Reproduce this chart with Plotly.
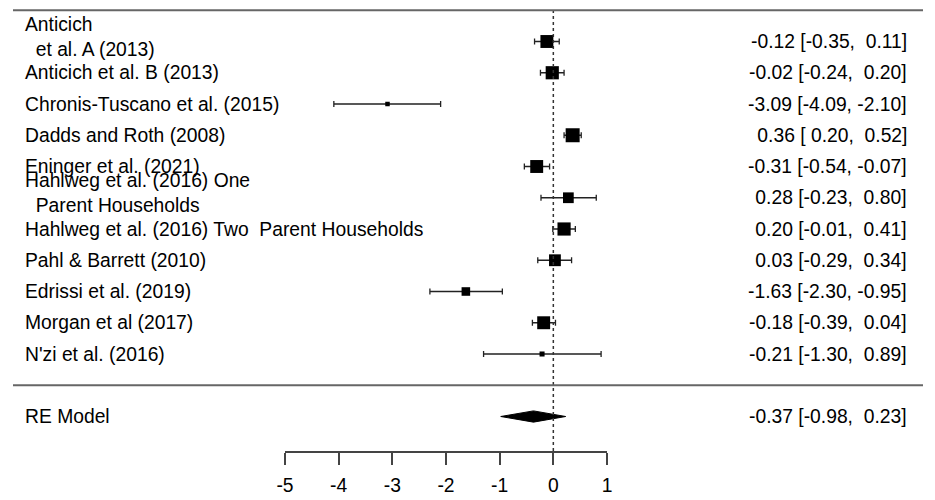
import plotly.graph_objects as go

# ---- data ----
studies = [
    "Anticich<br>  et al. A (2013)",
    "Anticich et al. B (2013)",
    "Chronis-Tuscano et al. (2015)",
    "Dadds and Roth (2008)",
    "Eninger et al. (2021)",
    "Hahlweg et al. (2016) One<br>  Parent Households",
    "Hahlweg et al. (2016) Two\u00a0 Parent Households",
    "Pahl & Barrett (2010)",
    "Edrissi et al. (2019)",
    "Morgan et al (2017)",
    "N'zi et al. (2016)",
]
estimates = [-0.12, -0.02, -3.09, 0.36, -0.31, 0.28, 0.20, 0.03, -1.63, -0.18, -0.21]
ci_lower = [-0.35, -0.24, -4.09, 0.20, -0.54, -0.23, -0.01, -0.29, -2.30, -0.39, -1.30]
ci_upper = [0.11, 0.20, -2.10, 0.52, -0.07, 0.80, 0.41, 0.34, -0.95, 0.04, 0.89]
weights = [10.0, 10.1, 6.9, 10.4, 10.0, 9.2, 10.1, 9.6, 8.4, 10.0, 7.1]  # approx. % weights (marker size)

re_label = "RE Model"
re_est, re_lo, re_hi = -0.37, -0.98, 0.23

x_ticks = [-5, -4, -3, -2, -1, 0, 1]

# ---- layout geometry (pixels, reference page coords; page body has 8px margin) ----
OFF = 8
W, H = 935 - 2 * OFF, 500 - OFF
X_LEFT_PX, X_RIGHT_PX = 285, 607      # page x of -5 and 1
AXIS_Y_PX = 451                        # page y of axis line
L_MARGIN = X_LEFT_PX - OFF
R_MARGIN = W - (X_RIGHT_PX - OFF)
T_MARGIN = 0
B_MARGIN = H - (AXIS_Y_PX - OFF)
PW = W - L_MARGIN - R_MARGIN
FONT = "Liberation Sans, Arial, sans-serif"
FS = 19.3

# y range: row 11 at page y 41.5, 31.25 px per row
ROW_PX = 31.25
top_row = 11 + (41.5 - OFF) / ROW_PX
bot_row = 11 - (AXIS_Y_PX - 41.5) / ROW_PX

def px_to_paper(px):
    return (px - OFF - L_MARGIN) / PW

n = len(studies)
rows = [n - i for i in range(n)]
re_row = -1

wmin, wmax = min(weights), max(weights)
sizes = [4.5 + (w - wmin) / (wmax - wmin) * 9.5 for w in weights]

fig = go.Figure()

# study estimates with CI
fig.add_trace(go.Scatter(
    x=estimates, y=rows, mode="markers",
    marker=dict(symbol="square", size=sizes, color="black", opacity=1, line=dict(width=0)),
    error_x=dict(type="data", symmetric=False,
                 array=[u - e for u, e in zip(ci_upper, estimates)],
                 arrayminus=[e - l for e, l in zip(estimates, ci_lower)],
                 color="#222222", thickness=1.3, width=3),
    showlegend=False, hoverinfo="skip", cliponaxis=False,
))

# RE diamond
dh = 0.18
fig.add_trace(go.Scatter(
    x=[re_lo, re_est, re_hi, re_est, re_lo],
    y=[re_row, re_row + dh, re_row, re_row - dh, re_row],
    mode="lines", fill="toself", fillcolor="black",
    line=dict(color="black", width=1), showlegend=False, hoverinfo="skip",
))

# reference line at 0
fig.add_shape(type="line", xref="x", yref="y", x0=0, x1=0, y0=bot_row, y1=n + 1,
              line=dict(color="#333333", width=1.5, dash="dot"))

# horizontal rules
for yv in [n + 1, 0]:
    fig.add_shape(type="line", xref="paper", yref="y",
                  x0=px_to_paper(13), x1=px_to_paper(923), y0=yv, y1=yv,
                  line=dict(color="#666666", width=2))

def fmt(v):
    return f"{v:5.2f}".replace(" ", "\u00a0")

annotations = []
for lab, r, e, lo, hi in zip(studies, rows, estimates, ci_lower, ci_upper):
    multi = "<br>" in lab
    annotations.append(dict(
        x=px_to_paper(23), xref="paper", y=r, yref="y",
        text=lab.replace("  ", "\u00a0\u00a0"), showarrow=False,
        xanchor="left", yanchor="middle", align="left",
        yshift=5 if multi else 0,
        font=dict(family=FONT, size=FS, color="black"),
    ))
    annotations.append(dict(
        x=px_to_paper(909), xref="paper", y=r, yref="y",
        text=f"{fmt(e)} [{fmt(lo)}, {fmt(hi)}]", showarrow=False,
        xanchor="right", yanchor="middle", align="right",
        font=dict(family=FONT, size=FS, color="black"),
    ))
annotations.append(dict(
    x=px_to_paper(23), xref="paper", y=re_row, yref="y", text=re_label,
    showarrow=False, xanchor="left", yanchor="middle",
    font=dict(family=FONT, size=FS, color="black"),
))
annotations.append(dict(
    x=px_to_paper(909), xref="paper", y=re_row, yref="y",
    text=f"{fmt(re_est)} [{fmt(re_lo)}, {fmt(re_hi)}]", showarrow=False,
    xanchor="right", yanchor="middle",
    font=dict(family=FONT, size=FS, color="black"),
))

fig.update_layout(
    width=W, height=H,
    margin=dict(l=L_MARGIN, r=R_MARGIN, t=T_MARGIN, b=B_MARGIN, pad=0),
    paper_bgcolor="white", plot_bgcolor="white",
    annotations=annotations,
    xaxis=dict(range=[-5, 1], tickvals=x_ticks, ticktext=[str(t) for t in x_ticks],
               showgrid=False, zeroline=False, showline=True, linecolor="#444444",
               linewidth=1.5, ticks="outside", ticklen=12, tickwidth=1.5,
               tickcolor="#444444", ticklabelstandoff=4,
               tickfont=dict(family=FONT, size=FS, color="black"),
               fixedrange=True),
    yaxis=dict(range=[bot_row, top_row], visible=False, fixedrange=True),
    font=dict(family=FONT),
)

fig.write_html("out.html")
